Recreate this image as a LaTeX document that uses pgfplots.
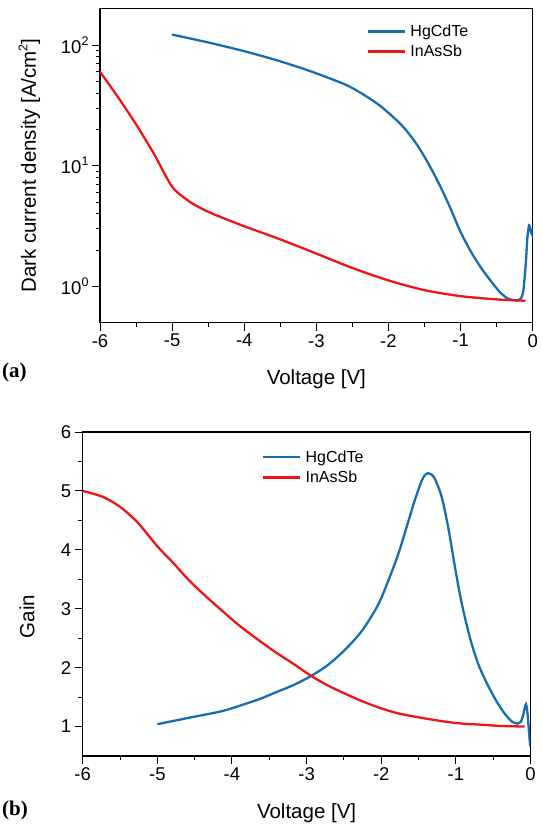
\documentclass[border=0pt]{standalone}
\usepackage{fontspec}
\setmainfont{Liberation Sans}
\newfontfamily\timesfont{Liberation Serif}
\usepackage{pgfplots}
\pgfplotsset{compat=1.18}
\definecolor{hgblue}{RGB}{22,110,175}
\definecolor{inred}{RGB}{240,20,20}
\newcommand\sps[1]{\raisebox{0.8ex}{\fontsize{12.5}{13}\selectfont #1}}
\pgfplotsset{
  common/.style={
    scale only axis,
    axis line style={black, line width=1.1pt},
    tick style={black, line width=1pt},
    major tick length=8pt,
    minor tick length=4.5pt,
    tick align=outside,
    tick pos=left,
    xmin=-6, xmax=0,
    xtick={-6,-5,-4,-3,-2,-1,0},
    xticklabels={-6,-5,-4,-3,-2,-1,0},
    minor x tick num=1,
    tick label style={font=\fontsize{18.5}{20}\selectfont},
    label style={font=\fontsize{20.5}{23}\selectfont},
    xlabel={Voltage [V]},
    legend cell align=left,
    legend image code/.code={\draw[#1] (0pt,0pt) -- (37pt,0pt);},
  },
  mycurve/.style={line width=2.3pt, smooth, tension=0.45},
}
\begin{document}
\begin{tikzpicture}[x=1pt,y=1pt]
\useasboundingbox (0,0) rectangle (542,830);
% ---------------- (a)
\begin{axis}[common,
  at={(100pt,507.3pt)}, anchor=south west,
  width=432.7pt, height=314pt,
  ymode=log, ymin=0.5, ymax=200,
  ytick={1,10,100},
  yticklabels={10\sps{0},10\sps{1},10\sps{2}},
  ylabel={Dark current density [A/cm\sps{2}]},
  xlabel style={at={(axis description cs:0.5,-0.197)}, anchor=base},
  ylabel style={at={(axis description cs:-0.148,0.5)}, anchor=base},
  legend style={draw=none, fill=none, at={(axis description cs:0.61,0.962)}, anchor=north west,
    font=\fontsize{16}{18}\selectfont, row sep=3pt, column sep=2pt},
]
\addplot[hgblue, mycurve] coordinates {
(-5.0,122) (-4.5,105) (-4.035,90) (-3.556,75) (-3.077,60.5) (-2.598,47)
(-2.36,39.3) (-2.12,31.5) (-1.88,23.6) (-1.75,19.5) (-1.6,14.8) (-1.45,10.5)
(-1.3,7.1) (-1.15,4.57) (-1.0,2.82) (-0.85,1.91) (-0.7,1.38) (-0.55,1.05)
(-0.45,0.89) (-0.35,0.795) (-0.27,0.768) (-0.2,0.766) (-0.16,0.80)
(-0.129,0.93) (-0.096,1.54) (-0.073,2.56) (-0.05,3.2) (-0.03,2.9) (-0.01,2.7) (-0.003,3.0)
};
\addlegendentry{HgCdTe}
\addplot[inred, mycurve] coordinates {
(-6,60) (-5.75,37) (-5.5,22) (-5.25,12.5) (-5.0,6.7) (-4.75,5.0) (-4.5,4.15)
(-4.25,3.6) (-4.0,3.15) (-3.5,2.45) (-3.0,1.87) (-2.5,1.42) (-2.0,1.12)
(-1.5,0.93) (-1.0,0.83) (-0.5,0.78) (-0.1,0.76)
};
\addlegendentry{InAsSb}
\end{axis}
\node[anchor=base west, inner sep=0pt, font=\timesfont\bfseries\fontsize{21}{24}\selectfont] at (2,452) {(a)};
% ---------------- (b)
\begin{axis}[common,
  at={(82.7pt,74pt)}, anchor=south west,
  width=447.8pt, height=324pt,
  ymin=0.5, ymax=6,
  ytick={1,2,3,4,5,6},
  yticklabels={1,2,3,4,5,6},
  minor y tick num=1,
  ylabel={Gain},
  xlabel style={at={(axis description cs:0.5,-0.194)}, anchor=base},
  ylabel style={at={(axis description cs:-0.108,0.43)}, anchor=base},
  legend style={draw=none, fill=none, at={(axis description cs:0.394,0.955)}, anchor=north west,
    font=\fontsize{16}{18}\selectfont, row sep=3pt, column sep=2pt},
]
\addplot[hgblue, mycurve] coordinates {
(-5.0,1.04) (-4.573,1.15) (-4.109,1.27) (-3.646,1.46) (-3.414,1.58) (-3.183,1.70)
(-2.951,1.85) (-2.72,2.04) (-2.488,2.30) (-2.256,2.63) (-2.025,3.11) (-1.793,3.85)
(-1.654,4.41) (-1.561,4.80) (-1.468,5.14) (-1.42,5.26) (-1.376,5.30) (-1.33,5.28)
(-1.283,5.21) (-1.19,4.90) (-1.098,4.35) (-1.011,3.70) (-0.92,3.08) (-0.81,2.50)
(-0.7,2.06) (-0.587,1.74) (-0.47,1.46) (-0.364,1.25) (-0.28,1.12) (-0.23,1.07)
(-0.17,1.05) (-0.13,1.08) (-0.1,1.18) (-0.075,1.33) (-0.06,1.38) (-0.047,1.30)
(-0.037,1.18) (-0.015,0.83) (-0.002,0.66)
};
\addlegendentry{HgCdTe}
\addplot[inred, mycurve] coordinates {
(-6,5.0) (-5.731,4.9) (-5.5,4.73) (-5.268,4.47) (-5.0,4.06) (-4.804,3.80)
(-4.573,3.48) (-4.341,3.20) (-4.109,2.94) (-3.878,2.69) (-3.646,2.47) (-3.414,2.26)
(-3.183,2.07) (-2.951,1.87) (-2.72,1.70) (-2.488,1.56) (-2.256,1.43) (-2.025,1.32)
(-1.793,1.23) (-1.561,1.17) (-1.33,1.12) (-1.098,1.075) (-0.866,1.045) (-0.635,1.03)
(-0.403,1.01) (-0.079,1.0)
};
\addlegendentry{InAsSb}
\end{axis}
\node[anchor=base west, inner sep=0pt, font=\timesfont\bfseries\fontsize{21}{24}\selectfont] at (2,14) {(b)};
\end{tikzpicture}
\end{document}
